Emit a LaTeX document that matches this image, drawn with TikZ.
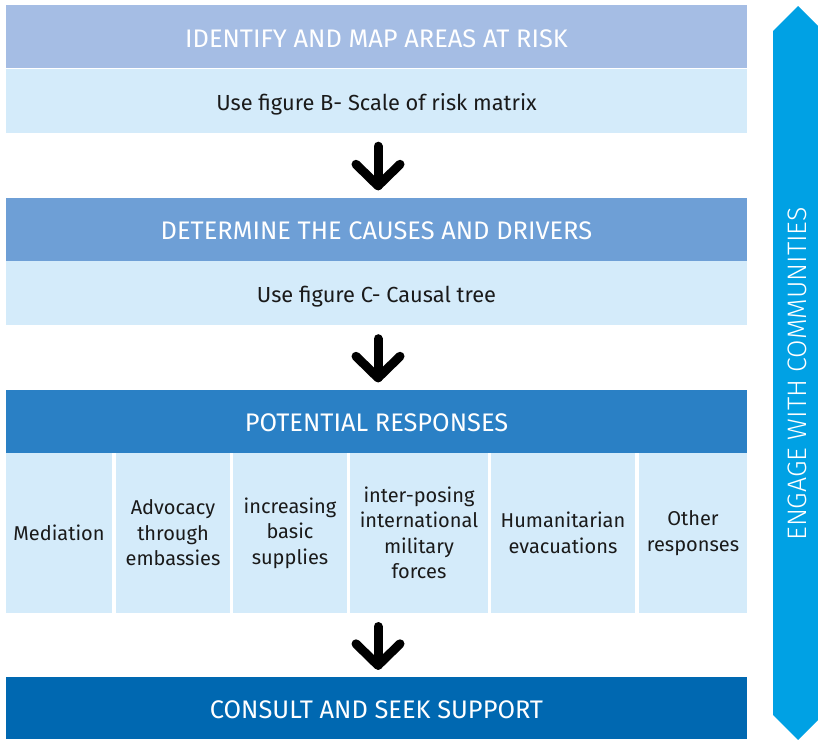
\documentclass[tikz,border=0pt]{standalone}
\usepackage{fontspec}
\setmainfont{Fira Sans}
\newfontfamily\lightfont{Fira Sans Light}
\usetikzlibrary{calc}

\definecolor{hdA}{HTML}{A5BDE4}
\definecolor{hdB}{HTML}{6E9FD6}
\definecolor{hdC}{HTML}{2A80C5}
\definecolor{hdD}{HTML}{0068B1}
\definecolor{pale}{HTML}{D4EBFA}
\definecolor{sidecol}{HTML}{00A1E4}
\definecolor{ink}{HTML}{1A1A1A}

\tikzset{
  band/.style={fill=#1, minimum width=741pt, minimum height=63pt, inner sep=0pt,
    text height=21pt, text depth=0pt,
    text=white, font=\fontsize{25.4}{28}\selectfont},
  subband/.style={fill=pale, minimum width=741pt, minimum height=64pt, inner sep=0pt,
    text height=19pt, text depth=0pt,
    text=ink, font=\fontsize{21.8}{26}\selectfont},
  resp/.style={fill=pale, minimum height=160pt, inner sep=0pt, align=center,
    text=ink, font=\fontsize{20}{25.5}\selectfont},
  blk/.style={line width=9pt, line cap=round, line join=round, black},
}

% down arrow between two anchors: shaft plus chevron head
\newcommand\flowarrow[2]{%
  \draw[blk] ($(#1)+(1.5,13.5)$) -- ($(#2)+(1.5,-11.5)$);
  \draw[blk] ($(#2)+(-20.5,-33)$) -- ($(#2)+(1.5,-11.5)$) -- ($(#2)+(23.5,-33)$);
}

\begin{document}
\begin{tikzpicture}[x=1pt, y=-1pt]
  \clip (0,0) rectangle (818,739);
  \fill[white] (0,0) rectangle (818,739);

  % main column
  \node[band=hdA] (head1) at (376.5,36.5) {IDENTIFY AND MAP AREAS AT RISK};
  \node[subband] (sub1) at (376.5,100.5) {Use figure B- Scale of risk matrix};

  \node[band=hdB] (head2) at (376.5,229) {DETERMINE THE CAUSES AND DRIVERS};
  \node[subband] (sub2) at (376.5,293) {Use figure C- Causal tree};

  \node[band=hdC] (head3) at (376.5,421) {POTENTIAL RESPONSES};

  % response options
  \node[resp, minimum width=106pt] (r1) at (59,533) {Mediation};
  \node[resp, minimum width=114pt] (r2) at (173,533) {Advocacy\\through\\embassies};
  \node[resp, minimum width=114pt] (r3) at (290,533) {increasing\\basic\\supplies};
  \node[resp, minimum width=138pt] (r4) at (419,533) {inter-posing\\international\\military\\forces};
  \node[resp, minimum width=144pt] (r5) at (563,533) {Humanitarian\\evacuations};
  \node[resp, minimum width=108pt] (r6) at (693,533) {Other\\responses};
  \coordinate (rowbot) at (376.5,613);

  \node[band=hdD, minimum height=62pt] (head4) at (376.5,708) {CONSULT AND SEEK SUPPORT};

  % flow arrows
  \flowarrow{sub1.south}{head2.north}
  \flowarrow{sub2.south}{head3.north}
  \flowarrow{rowbot}{head4.north}

  % side double-headed band
  \fill[sidecol] (773,31) -- (798,6) -- (823,31) -- (823,715) -- (798,740) -- (773,715) -- cycle;
  \node[rotate=90, text=white, font=\lightfont\fontsize{26.7}{30}\selectfont] (side) at (797,374)
    {ENGAGE WITH COMMUNITIES};
\end{tikzpicture}
\end{document}
